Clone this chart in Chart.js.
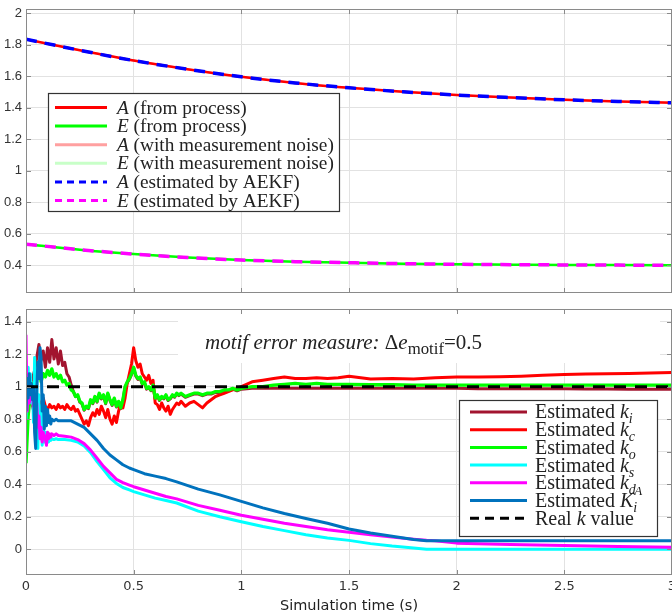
<!DOCTYPE html>
<html lang="en">
<head>
<meta charset="UTF-8" />
<title>AEKF parameter estimation</title>
<script src="https://cdn.jsdelivr.net/npm/chart.js"></script>
<style>
  body { margin: 0; background: #fff; }
  canvas { position: absolute; left: 0; }
</style>
</head>
<body>
<canvas id="topChart" width="672" height="300" style="top:0"></canvas>
<canvas id="bottomChart" width="672" height="315" style="top:300px"></canvas>
<script>
// ---------- ticks ----------
const xTicks = [0, 0.5, 1, 1.5, 2, 2.5, 3];
const topTicks = [0.4, 0.6, 0.8, 1, 1.2, 1.4, 1.6, 1.8, 2];
const bottomTicks = [0, 0.2, 0.4, 0.6, 0.8, 1, 1.2, 1.4];

// ---------- top panel: A and E ----------
const tTop = [0, 0.25, 0.5, 0.75, 1, 1.25, 1.5, 1.75, 2, 2.25, 2.5, 2.75, 3];
const aProcess  = [1.835, 1.765, 1.700, 1.645, 1.597, 1.558, 1.527, 1.502, 1.481, 1.465, 1.451, 1.440, 1.432];
const eProcess  = [0.535, 0.500, 0.472, 0.450, 0.434, 0.424, 0.417, 0.411, 0.407, 0.405, 0.403, 0.402, 0.401];
const aMeasured = [1.835, 1.765, 1.700, 1.645, 1.597, 1.558, 1.527, 1.502, 1.481, 1.465, 1.451, 1.440, 1.432];
const eMeasured = [0.535, 0.500, 0.472, 0.450, 0.434, 0.424, 0.417, 0.411, 0.407, 0.405, 0.403, 0.402, 0.401];
const aAEKF     = [1.835, 1.765, 1.700, 1.645, 1.597, 1.558, 1.527, 1.502, 1.481, 1.465, 1.451, 1.440, 1.432];
const eAEKF     = [0.535, 0.500, 0.472, 0.450, 0.434, 0.424, 0.417, 0.411, 0.407, 0.405, 0.403, 0.402, 0.401];

// ---------- bottom panel: estimated rate constants ----------
const tNoisy = [0, 0.01, 0.02, 0.03, 0.04, 0.05, 0.06, 0.07, 0.08, 0.09,
  0.1, 0.11, 0.12, 0.13, 0.14, 0.15, 0.16, 0.17, 0.18, 0.19,
  0.2, 0.21, 0.22, 0.23, 0.24, 0.25, 0.26, 0.27, 0.28, 0.29,
  0.3, 0.31, 0.32, 0.33, 0.34, 0.35, 0.36, 0.37, 0.38, 0.39,
  0.4, 0.41, 0.42, 0.43, 0.44, 0.45, 0.46, 0.47, 0.48, 0.49,
  0.5, 0.51, 0.52, 0.53, 0.54, 0.55, 0.56, 0.57, 0.58, 0.59,
  0.6, 0.61, 0.62, 0.63, 0.64, 0.65, 0.66, 0.67, 0.68, 0.69,
  0.7, 0.71, 0.72,
  0.74, 0.76, 0.78, 0.8, 0.82, 0.84, 0.86, 0.88, 0.9, 0.92, 0.94, 0.96, 0.98, 1,
  1.05, 1.1, 1.15, 1.2, 1.25, 1.3, 1.35, 1.4, 1.45, 1.5,
  1.6, 1.7, 1.8, 1.9, 2, 2.1, 2.2, 2.3, 2.4, 2.5, 2.6, 2.7, 2.8, 2.9, 3];

const kI = [1.00, 0.98, 1.02, 1.05, 1.10, 1.18, 1.26, 1.16, 1.22, 1.12,
  1.24, 1.15, 1.29, 1.17, 1.24, 1.14, 1.22, 1.13, 1.15, 1.08,
  1.06, 1.01, 0.97, 0.94, 0.945, 0.905, 0.895, 0.855, 0.875, 0.865,
  0.915, 0.895, 0.935, 0.905, 0.955, 0.925, 0.945, 0.895, 0.955, 0.915,
  0.885, 0.925, 0.875, 0.905, 0.865, 0.915, 0.995, 1.025, 1.045, 1.075,
  1.115, 1.065, 1.045, 1.055, 1.015, 1.025, 0.985, 0.995, 0.975, 1.005,
  0.925, 0.945, 0.915, 0.935, 0.925, 0.945, 0.915, 0.925, 0.945, 0.935,
  0.955, 0.945, 0.955,
  0.935, 0.945, 0.955, 0.955, 0.945, 0.955, 0.955, 0.965, 0.965, 0.975, 0.975, 0.985, 0.975, 0.985,
  0.99, 0.99, 0.99, 0.99, 0.99, 0.99, 0.99, 0.99, 0.99, 0.99,
  0.99, 0.99, 0.99, 0.99, 0.99, 0.988, 0.988, 0.988, 0.987, 0.987, 0.986, 0.986, 0.985, 0.985, 0.985];

const kC = [1.00, 0.96, 0.92, 0.88, 0.83, 0.78, 0.82, 0.90, 0.93, 0.88,
  0.86, 0.89, 0.87, 0.88, 0.86, 0.89, 0.87, 0.88, 0.86, 0.89,
  0.87, 0.86, 0.88, 0.85, 0.86, 0.83, 0.80, 0.77, 0.79, 0.76,
  0.81, 0.84, 0.82, 0.86, 0.83, 0.88, 0.85, 0.81, 0.86, 0.80,
  0.77, 0.82, 0.78, 0.85, 0.90, 0.87, 0.93, 1.02, 1.08, 1.14,
  1.24, 1.16, 1.12, 1.14, 1.08, 1.06, 1.04, 1.07, 1.02, 1.04,
  0.90, 0.89, 0.86, 0.90, 0.87, 0.85, 0.88, 0.83, 0.86, 0.88,
  0.90, 0.89, 0.91,
  0.88, 0.90, 0.91, 0.89, 0.87, 0.90, 0.92, 0.94, 0.95, 0.96, 0.97, 0.98, 0.99, 1.00,
  1.03, 1.04, 1.05, 1.06, 1.05, 1.05, 1.055, 1.05, 1.055, 1.065,
  1.048, 1.05, 1.048, 1.055, 1.06, 1.06, 1.062, 1.065, 1.07, 1.075, 1.078, 1.08, 1.082, 1.085, 1.088];

const kO = [0.53, 0.82, 0.95, 1.02, 0.98, 1.05, 1.12, 1.03, 1.08, 1.06,
  1.10, 1.07, 1.11, 1.06, 1.08, 1.05, 1.07, 1.03, 1.04, 1.01,
  1.02, 0.98, 0.97, 0.94, 0.95, 0.91, 0.90, 0.86, 0.88, 0.87,
  0.92, 0.90, 0.94, 0.91, 0.96, 0.93, 0.95, 0.90, 0.96, 0.92,
  0.89, 0.93, 0.88, 0.91, 0.87, 0.92, 1.00, 1.03, 1.05, 1.08,
  1.12, 1.07, 1.05, 1.06, 1.02, 1.03, 0.99, 1.00, 0.98, 1.01,
  0.93, 0.95, 0.92, 0.94, 0.93, 0.95, 0.92, 0.93, 0.95, 0.94,
  0.96, 0.95, 0.96,
  0.94, 0.95, 0.96, 0.96, 0.95, 0.96, 0.96, 0.97, 0.97, 0.98, 0.98, 0.99, 0.98, 0.99,
  1.00, 1.00, 1.01, 1.015, 1.02, 1.015, 1.02, 1.015, 1.015, 1.015,
  1.012, 1.012, 1.01, 1.01, 1.01, 1.01, 1.01, 1.01, 1.01, 1.01, 1.01, 1.01, 1.01, 1.01, 1.01];

const tDecay = [0, 0.005, 0.01, 0.015, 0.02, 0.025, 0.03, 0.035, 0.04, 0.045,
  0.05, 0.055, 0.06, 0.065, 0.07, 0.075, 0.08, 0.085, 0.09, 0.095,
  0.1, 0.105, 0.11, 0.115, 0.12,
  0.13, 0.14, 0.15,
  0.18, 0.21, 0.24, 0.27, 0.3, 0.33, 0.36, 0.39, 0.42, 0.45, 0.48,
  0.5, 0.55, 0.6, 0.65, 0.7,
  0.8, 0.9, 1, 1.1, 1.2, 1.3, 1.4, 1.5, 1.6, 1.7, 1.8,
  1.86, 1.9, 2, 2.25, 2.5, 2.75, 3];

const kS = [0.80, 1.02, 1.12, 0.95, 1.08, 0.90, 1.00, 0.78, 1.18, 0.70,
  1.05, 0.62, 0.95, 0.75, 0.88, 0.64, 0.78, 0.66, 0.72, 0.65,
  0.70, 0.66, 0.69, 0.67, 0.68,
  0.675, 0.68, 0.675,
  0.675, 0.67, 0.66, 0.635, 0.595, 0.54, 0.49, 0.44, 0.405, 0.38, 0.365,
  0.355, 0.335, 0.315, 0.30, 0.285,
  0.235, 0.20, 0.17, 0.14, 0.115, 0.09, 0.07, 0.055, 0.035, 0.02, 0.008,
  0, 0, 0, 0, 0, 0, 0];

const kD = [1.32, 0.85, 1.00, 0.90, 0.95, 0.92, 0.98, 0.88, 0.95, 0.80,
  0.90, 0.75, 0.82, 0.68, 0.75, 0.66, 0.72, 0.70, 0.68, 0.64,
  0.72, 0.68, 0.71, 0.69, 0.71,
  0.70, 0.71, 0.70,
  0.695, 0.69, 0.675, 0.65, 0.61, 0.56, 0.51, 0.47, 0.43, 0.41, 0.395,
  0.385, 0.365, 0.345, 0.325, 0.31,
  0.27, 0.24, 0.21, 0.185, 0.16, 0.14, 0.12, 0.105, 0.09, 0.075, 0.062,
  0.055, 0.052, 0.038, 0.03, 0.023, 0.017, 0.012];

const kIA = [0.85, 1.05, 0.93, 1.08, 0.95, 1.02, 0.92, 1.00, 0.72, 0.62,
  0.98, 1.15, 1.05, 1.24, 1.18, 0.85, 0.95, 0.74, 0.88, 0.76,
  0.86, 0.78, 0.82, 0.77, 0.80,
  0.79, 0.80, 0.79,
  0.79, 0.79, 0.77, 0.75, 0.71, 0.67, 0.62, 0.58, 0.55, 0.52, 0.50,
  0.49, 0.465, 0.45, 0.435, 0.415,
  0.37, 0.335, 0.295, 0.255, 0.22, 0.19, 0.16, 0.125, 0.10, 0.08, 0.06,
  0.052, 0.052, 0.052, 0.052, 0.052, 0.052, 0.052];

const tReal = [0, 3];
const kReal = [1, 1];

// legend texts: [text, flags]  i=italic b=subscript p=superscript h=don't advance
const topLegend = [
  { color: '#ff0000', dash: [], parts: [['A', 'i'], [' (from process)', '']] },
  { color: '#00ff00', dash: [], parts: [['E', 'i'], [' (from process)', '']] },
  { color: '#ffa0a0', dash: [], parts: [['A', 'i'], [' (with measurement noise)', '']] },
  { color: '#c8ffc8', dash: [], parts: [['E', 'i'], [' (with measurement noise)', '']] },
  { color: '#0000ff', dash: [7, 5], parts: [['A', 'i'], [' (estimated by AEKF)', '']] },
  { color: '#ff00ff', dash: [7, 5], parts: [['E', 'i'], [' (estimated by AEKF)', '']] }
];
const bottomLegend = [
  { color: '#a2142f', dash: [], parts: [['Estimated ', ''], ['k', 'i'], ['i', 'ib']] },
  { color: '#ff0000', dash: [], parts: [['Estimated ', ''], ['k', 'i'], ['c', 'ib']] },
  { color: '#00ff00', dash: [], parts: [['Estimated ', ''], ['k', 'i'], ['o', 'ib']] },
  { color: '#00ffff', dash: [], parts: [['Estimated ', ''], ['k', 'i'], ['s', 'ib']] },
  { color: '#ff00ff', dash: [], parts: [['Estimated ', ''], ['k', 'i'], ['d', 'ib']] },
  { color: '#0072bd', dash: [], parts: [['Estimated ', ''], ['K', 'i'], ['A', 'iph'], ['i', 'ib']] },
  { color: '#000000', dash: [9, 6], parts: [['Real ', ''], ['k', 'i'], [' value', '']] }
];
const annotation = [['motif error measure: ', 'i'], ['\u0394', ''], ['e', 'i'], ['motif', 'b'], ['=0.5', '']];

// ---------- helpers ----------
const SERIF = '"Liberation Serif", "Times New Roman", serif';

function richText(ctx, x, y, parts, size, subScale) {
  const sc = subScale || 0.7;
  for (const [txt, f] of parts) {
    let fs = size, dy = 0;
    if (f.includes('b')) { fs = size * sc; dy = size * 0.25; }
    if (f.includes('p')) { fs = size * 0.65; dy = -size * 0.58; }
    ctx.font = (f.includes('i') ? 'italic ' : '') + fs + 'px ' + SERIF;
    ctx.fillText(txt, f.includes('p') ? x + 1 : x, y + dy);
    if (!f.includes('h')) x += ctx.measureText(txt).width;
  }
}

function drawLegend(ctx, box, items, lineX, textX, rowY, rowH, size) {
  ctx.save();
  ctx.fillStyle = '#fff';
  ctx.fillRect(box[0], box[1], box[2] - box[0], box[3] - box[1]);
  ctx.strokeStyle = '#333';
  ctx.lineWidth = 1.2;
  ctx.strokeRect(box[0] + 0.5, box[1] + 0.5, box[2] - box[0], box[3] - box[1]);
  items.forEach((it, i) => {
    const y = rowY + i * rowH;
    ctx.strokeStyle = it.color;
    ctx.lineWidth = 3;
    ctx.setLineDash(it.dash);
    ctx.beginPath();
    ctx.moveTo(lineX[0], y);
    ctx.lineTo(lineX[1], y);
    ctx.stroke();
    ctx.setLineDash([]);
    ctx.fillStyle = '#222';
    ctx.textBaseline = 'alphabetic';
    richText(ctx, textX, y + size * 0.32, it.parts, size);
  });
  ctx.restore();
}

function framePlugin(whiteBox, extra) {
  return {
    id: 'frame',
    beforeDatasetsDraw(chart) {
      if (!whiteBox) return;
      chart.ctx.fillStyle = '#fff';
      chart.ctx.fillRect(whiteBox[0], whiteBox[1], whiteBox[2], whiteBox[3]);
    },
    afterDatasetsDraw(chart) {
      const { ctx, chartArea: a, scales: { x, y } } = chart;
      ctx.save();
      ctx.strokeStyle = '#8a8a8a';
      ctx.lineWidth = 1;
      ctx.beginPath();
      x.ticks.forEach(t => {
        const px = Math.round(x.getPixelForValue(t.value)) + 0.5;
        ctx.moveTo(px, a.top); ctx.lineTo(px, a.top + 5);
        ctx.moveTo(px, a.bottom); ctx.lineTo(px, a.bottom - 5);
      });
      y.ticks.forEach(t => {
        const py = Math.round(y.getPixelForValue(t.value)) + 0.5;
        ctx.moveTo(a.left, py); ctx.lineTo(a.left + 5, py);
        ctx.moveTo(a.right, py); ctx.lineTo(a.right - 5, py);
      });
      ctx.stroke();
      ctx.strokeRect(a.left + 0.5, a.top + 0.5, a.width - 1, a.height - 1);
      ctx.restore();
    },
    afterDraw(chart) { extra(chart.ctx); }
  };
}

function series(ts, vs, color, width, dash, order, smooth) {
  return {
    data: ts.map((t, i) => ({ x: t, y: vs[i] })),
    borderColor: color,
    borderWidth: width,
    borderDash: dash,
    pointRadius: 0,
    borderJoinStyle: 'round',
    tension: smooth ? 0.4 : 0,
    cubicInterpolationMode: smooth ? 'monotone' : 'default',
    order: order
  };
}

function axes(yMin, yMax, yTicks, showX) {
  const noPad = s => { s.paddingLeft = 0; s.paddingRight = 0; s.paddingTop = 0; s.paddingBottom = 0; };
  return {
    x: {
      type: 'linear', min: 0, max: 3,
      afterBuildTicks: s => { s.ticks = xTicks.map(v => ({ value: v })); },
      afterFit: s => { s.height = showX ? 40 : 0; noPad(s); },
      grid: { color: '#e2e2e2', drawTicks: false },
      border: { display: false },
      ticks: {
        display: showX, padding: 4, color: '#333', maxRotation: 0,
        font: { family: '"DejaVu Sans"', size: 13 },
        callback: v => String(v)
      },
      title: {
        display: showX, text: 'Simulation time (s)', color: '#222',
        font: { family: '"DejaVu Sans"', size: 14.5 }, padding: { top: 1, bottom: 0 }
      }
    },
    y: {
      min: yMin, max: yMax,
      afterBuildTicks: s => { s.ticks = yTicks.map(v => ({ value: v })); },
      afterFit: s => { s.width = 26; noPad(s); },
      grid: { color: '#e2e2e2', drawTicks: false },
      border: { display: false },
      ticks: {
        padding: 4, color: '#333',
        font: { family: '"Liberation Sans"', size: 13 },
        callback: v => String(Number(v.toFixed(1)))
      }
    }
  };
}

const common = {
  responsive: false,
  animation: false,
  devicePixelRatio: 1,
  plugins: { legend: { display: false }, tooltip: { enabled: false } }
};

// ---------- top chart ----------
new Chart(document.getElementById('topChart'), {
  type: 'line',
  data: {
    datasets: [
      series(tTop, aProcess, '#ff0000', 2.5, [], 5, true),
      series(tTop, eProcess, '#00ff00', 2.5, [], 4, true),
      series(tTop, aMeasured, 'rgba(255,0,0,0.35)', 2, [], 7, true),
      series(tTop, eMeasured, 'rgba(0,255,0,0.2)', 2, [], 6, true),
      series(tTop, aAEKF, '#0000ff', 3.5, [11, 8], 1, true),
      series(tTop, eAEKF, '#ff00ff', 3.5, [11, 8], 0, true)
    ]
  },
  options: Object.assign({}, common, {
    layout: { padding: { top: 9, bottom: 7, left: 0, right: 0 } },
    scales: axes(0.225, 2.027, topTicks, false)
  }),
  plugins: [framePlugin(null, ctx => {
    drawLegend(ctx, [48, 93, 339, 211], topLegend, [55, 107], 117, 107.5, 18.6, 19.3);
  })]
});

// ---------- bottom chart ----------
new Chart(document.getElementById('bottomChart'), {
  type: 'line',
  data: {
    datasets: [
      series(tNoisy, kI, '#a2142f', 3, [], 6, false),
      series(tNoisy, kC, '#ff0000', 3, [], 5, false),
      series(tNoisy, kO, '#00ff00', 3.3, [], 4, false),
      series(tDecay, kS, '#00ffff', 3, [], 3, false),
      series(tDecay, kD, '#ff00ff', 3, [], 2, false),
      series(tDecay, kIA, '#0072bd', 3, [], 1, false),
      series(tReal, kReal, '#000000', 3, [12, 9], 0, false)
    ]
  },
  options: Object.assign({}, common, {
    layout: { padding: { top: 9, bottom: 0, left: 0, right: 0 } },
    scales: axes(-0.158, 1.478, bottomTicks, true)
  }),
  plugins: [framePlugin([178, 11, 482, 52], ctx => {
    ctx.save();
    ctx.fillStyle = '#222';
    ctx.textBaseline = 'alphabetic';
    richText(ctx, 205, 49, annotation, 21, 0.8);
    ctx.restore();
    drawLegend(ctx, [459, 100, 657, 236], bottomLegend, [470, 527], 535, 112, 17.7, 20);
  })]
});
</script>
</body>
</html>
